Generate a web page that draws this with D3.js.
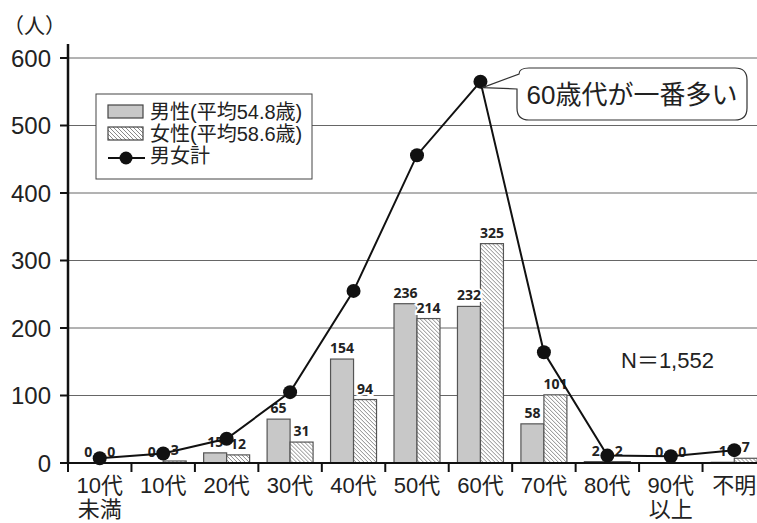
<!DOCTYPE html>
<html>
<head>
<meta charset="utf-8">
<script src="https://cdn.jsdelivr.net/npm/d3@7"></script>
<style>
  body { margin: 0; background: #fff; }
  svg { display: block; }
  text { font-family: "Liberation Sans", "Noto Sans CJK JP", sans-serif; fill: #222; }
  .num { font-family: "Open Sans", "DejaVu Sans", sans-serif; font-weight: 700; font-size: 14px; }
</style>
</head>
<body>
<svg id="chart" width="757" height="523"></svg>
<script>
// age groups (second line of label after \n)
var categories = ["10代\n未満", "10代", "20代", "30代", "40代", "50代", "60代", "70代", "80代", "90代\n以上", "不明"]
var male   = [0, 0, 15, 65, 154, 236, 232, 58, 2, 0, 1]
var female = [0, 3, 12, 31, 94, 214, 325, 101, 2, 0, 7]
// 男女計 line
var total  = [7, 14, 36, 105, 255, 456, 565, 164, 11, 10, 19]
var yTicks = [0, 100, 200, 300, 400, 500, 600]

var legendLabels = ["男性(平均54.8歳)", "女性(平均58.6歳)", "男女計"]
var calloutText = "60歳代が一番多い"
var noteText = "N＝1,552"

var svg = d3.select("#chart")
var width = 757, height = 523

var x = d3.scaleBand()
    .domain(categories)
    .range([68, 766])
var inner = d3.scaleBand()
    .domain(["m", "f"])
    .range([0, x.bandwidth()])
    .paddingOuter(0.38)
var y = d3.scaleLinear()
    .domain([0, 600])
    .range([463, 58])

// hatch for female bars
var defs = svg.append("defs")
var pat = defs.append("pattern")
    .attr("id", "hatch")
    .attr("patternUnits", "userSpaceOnUse")
    .attr("width", 4).attr("height", 4)
pat.append("rect").attr("width", 4).attr("height", 4).attr("fill", "#fff")
pat.append("path")
    .attr("d", "M-1,-1 L5,5 M-1,3 L1,5 M3,-1 L5,1")
    .attr("stroke", "#8a8a8a")
    .attr("stroke-width", 1)

// grid
svg.append("g")
  .selectAll("line")
  .data(yTicks.filter(d => d > 0))
  .join("line")
    .attr("x1", 68).attr("x2", width)
    .attr("y1", d => y(d)).attr("y2", d => y(d))
    .attr("stroke", "#666")
    .attr("stroke-width", 1)

// bars
var cat = svg.append("g")
  .selectAll("g")
  .data(categories)
  .join("g")
    .attr("transform", d => `translate(${x(d)},0)`)

cat.append("rect")
    .attr("x", inner("m"))
    .attr("width", inner.bandwidth())
    .attr("y", (d, i) => y(male[i]))
    .attr("height", (d, i) => y(0) - y(male[i]))
    .attr("fill", "#c8c8c8")
    .attr("stroke", "#555")
    .attr("stroke-width", 1.2)

cat.append("rect")
    .attr("x", inner("f"))
    .attr("width", inner.bandwidth())
    .attr("y", (d, i) => y(female[i]))
    .attr("height", (d, i) => y(0) - y(female[i]))
    .attr("fill", "url(#hatch)")
    .attr("stroke", "#555")
    .attr("stroke-width", 1.2)

// total line
var cx = (d, i) => x(categories[i]) + x.bandwidth() / 2
var line = d3.line()
    .x((d, i) => cx(d, i))
    .y(d => y(d))
svg.append("path")
    .datum(total)
    .attr("d", line)
    .attr("fill", "none")
    .attr("stroke", "#111")
    .attr("stroke-width", 2)

// value labels, white halo breaks the line like the original
cat.append("text")
    .attr("class", "num")
    .attr("x", inner("m") + inner.bandwidth() / 2)
    .attr("y", (d, i) => y(male[i]) - 6)
    .attr("text-anchor", "middle")
    .attr("stroke", "#fff").attr("stroke-width", 4).attr("paint-order", "stroke")
    .text((d, i) => male[i])

cat.append("text")
    .attr("class", "num")
    .attr("x", inner("f") + inner.bandwidth() / 2)
    .attr("y", (d, i) => y(female[i]) - 6)
    .attr("text-anchor", "middle")
    .attr("stroke", "#fff").attr("stroke-width", 4).attr("paint-order", "stroke")
    .text((d, i) => female[i])

svg.append("g")
  .selectAll("circle")
  .data(total)
  .join("circle")
    .attr("cx", cx)
    .attr("cy", d => y(d))
    .attr("r", 7)
    .attr("fill", "#111")

// axes
svg.append("line")
    .attr("x1", 68).attr("x2", 68)
    .attr("y1", 44).attr("y2", y(0))
    .attr("stroke", "#111").attr("stroke-width", 2.5)

var yAxis = svg.append("g")
yAxis.selectAll("line")
  .data(yTicks)
  .join("line")
    .attr("x1", 60).attr("x2", 68)
    .attr("y1", d => y(d)).attr("y2", d => y(d))
    .attr("stroke", "#111").attr("stroke-width", 2)
yAxis.selectAll("text")
  .data(yTicks)
  .join("text")
    .attr("x", 51)
    .attr("y", d => y(d))
    .attr("dy", "0.36em")
    .attr("text-anchor", "end")
    .style("font-size", "24px")
    .text(d => d)

svg.append("text")
    .attr("x", 3).attr("y", 33)
    .style("font-size", "21px")
    .text("（人）")

svg.append("line")
    .attr("x1", 68).attr("x2", width)
    .attr("y1", y(0)).attr("y2", y(0))
    .attr("stroke", "#111").attr("stroke-width", 2.2)

svg.append("g")
  .selectAll("line")
  .data(categories)
  .join("line")
    .attr("x1", d => x(d)).attr("x2", d => x(d))
    .attr("y1", y(0)).attr("y2", y(0) + 9)
    .attr("stroke", "#111").attr("stroke-width", 2)

var xl = svg.append("g")
  .selectAll("text")
  .data(categories)
  .join("text")
    .attr("text-anchor", "middle")
    .style("font-size", "22px")
xl.each(function(d) {
  var parts = d.split("\n")
  var t = d3.select(this)
  parts.forEach((p, k) => {
    t.append("tspan")
      .attr("x", x(d) + x.bandwidth() / 2)
      .attr("y", 493 + k * 24)
      .text(p)
  })
})

// legend
var lg = svg.append("g").attr("transform", "translate(96,94)")
lg.append("rect")
    .attr("width", 216).attr("height", 85)
    .attr("fill", "#fff").attr("stroke", "#444").attr("stroke-width", 1)
lg.append("rect")
    .attr("x", 12).attr("y", 11).attr("width", 35).attr("height", 13)
    .attr("fill", "#c8c8c8").attr("stroke", "#444").attr("stroke-width", 1.2)
lg.append("rect")
    .attr("x", 12).attr("y", 33).attr("width", 35).attr("height", 13)
    .attr("fill", "url(#hatch)").attr("stroke", "#444").attr("stroke-width", 1.2)
lg.append("line")
    .attr("x1", 12).attr("x2", 49).attr("y1", 64).attr("y2", 64)
    .attr("stroke", "#111").attr("stroke-width", 2)
lg.append("circle")
    .attr("cx", 30).attr("cy", 64).attr("r", 6.5).attr("fill", "#111")
lg.selectAll("text.lab")
  .data(legendLabels)
  .join("text")
    .attr("class", "lab")
    .attr("x", 54)
    .attr("y", (d, i) => 25 + i * 22)
    .style("font-size", "20px")
    .text(d => d)

// callout pointing at the peak
var peak = total.indexOf(d3.max(total))
var px = cx(0, peak), py = y(total[peak])
var bx = 517, by = 68, bw = 230, bh = 52, r = 12
var callout = [
  "M", bx + r, by,
  "H", bx + bw - r,
  "Q", bx + bw, by, bx + bw, by + r,
  "V", by + bh - r,
  "Q", bx + bw, by + bh, bx + bw - r, by + bh,
  "H", bx + r,
  "Q", bx, by + bh, bx, by + bh - r,
  "V", by + 21,
  "L", px + 2, py + 6,
  "L", bx + 2, by + 6,
  "Q", bx + 2, by, bx + r, by,
  "Z"
].join(" ")
svg.append("path")
    .attr("d", callout)
    .attr("fill", "#fff")
    .attr("stroke", "#333")
    .attr("stroke-width", 1.2)
svg.append("text")
    .attr("x", bx + bw / 2).attr("y", by + 36)
    .attr("text-anchor", "middle")
    .style("font-size", "26px")
    .text(calloutText)

svg.append("text")
    .attr("x", 621).attr("y", 368)
    .style("font-size", "22px")
    .text(noteText)
</script>
</body>
</html>
